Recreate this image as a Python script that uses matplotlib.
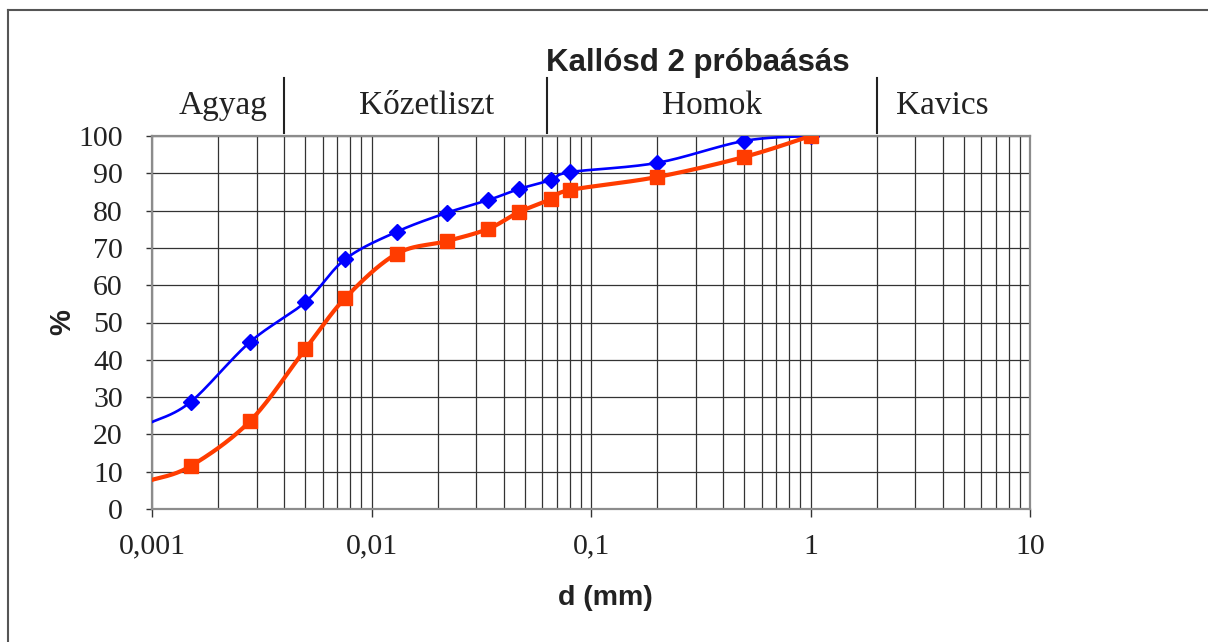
import numpy as np
import matplotlib.pyplot as plt
from matplotlib.lines import Line2D
import matplotlib.transforms as mtransforms

# grain size (mm) and passing (%)
d_mm = [0.0015, 0.0028, 0.005, 0.0076, 0.013, 0.022, 0.034, 0.047, 0.066, 0.08, 0.2, 0.5, 1.0]
minta_1 = [28.7, 44.8, 55.5, 67.0, 74.3, 79.4, 82.8, 85.8, 88.2, 90.3, 92.8, 98.7, 100.0]
minta_2 = [11.5, 23.6, 42.9, 56.6, 68.4, 71.8, 75.1, 79.6, 83.1, 85.5, 89.0, 94.4, 100.0]
# where the curves enter at the left edge (no marker there)
edge_d = 0.001
edge_1 = 23.3
edge_2 = 7.8

x_ticks = [0.001, 0.01, 0.1, 1, 10]
x_ticklabels = ["0,001", "0,01", "0,1", "1", "10"]
y_ticks = list(range(0, 101, 10))

bounds = [0.004, 0.063, 2.0]
classes = ["Agyag", "Kőzetliszt", "Homok", "Kavics"]
class_pos = [0.0021, 0.0178, 0.355, 4.0]


def smooth(xs, ys, n=40):
    # Catmull-Rom / Excel style smoothing in log-x space
    u = np.log10(np.asarray(xs, float))
    v = np.asarray(ys, float)
    P = np.column_stack([u, v])
    out = []
    for i in range(len(P) - 1):
        p0 = P[max(i - 1, 0)]
        p1 = P[i]
        p2 = P[i + 1]
        p3 = P[min(i + 2, len(P) - 1)]
        c1 = p1 + (p2 - p0) / 6
        c2 = p2 - (p3 - p1) / 6
        t = np.linspace(0, 1, n)[:, None]
        seg = (1 - t) ** 3 * p1 + 3 * (1 - t) ** 2 * t * c1 + 3 * (1 - t) * t ** 2 * c2 + t ** 3 * p2
        out.append(seg if i == 0 else seg[1:])
    out = np.vstack(out)
    return 10 ** out[:, 0], out[:, 1]


serif = "Liberation Serif"
sans = "Liberation Sans"

fig = plt.figure(figsize=(12.08, 6.42), dpi=100)
ax = fig.add_axes([152 / 1208, 1 - 509 / 642, (1030 - 152) / 1208, (509 - 136) / 642])

ax.set_xscale("log")
ax.set_xlim(0.001, 10)
ax.set_ylim(0, 100)

# grid
for dec in [0.001, 0.01, 0.1, 1]:
    for k in range(1, 10):
        ax.axvline(dec * k, color="#333333", lw=0.9, zorder=1)
for yv in y_ticks:
    ax.axhline(yv, color="#333333", lw=0.9, zorder=1)

bx, by = smooth([edge_d] + d_mm, [edge_1] + minta_1)
ax.plot(bx, by, color="#0000ff", lw=1.9, zorder=3)
ax.plot(d_mm, minta_1, ls="none", marker="D", ms=8.5, color="#0000ff", zorder=4)

rx, ry = smooth([edge_d] + d_mm, [edge_2] + minta_2)
ax.plot(rx, ry, color="#ff3c00", lw=3.0, zorder=5)
ax.plot(d_mm, minta_2, ls="none", marker="s", ms=10.5, color="#ff3c00", zorder=6)

for s in ax.spines.values():
    s.set_color("#8c8c8c")
    s.set_linewidth(1.6)

ax.set_xticks(x_ticks)
ax.set_xticklabels(x_ticklabels, fontfamily=serif, fontsize=21.5)
ax.xaxis.set_minor_locator(plt.NullLocator())
ax.set_yticks(y_ticks)
ax.set_yticklabels([str(v) for v in y_ticks], fontfamily=serif, fontsize=21.5)
ax.tick_params(axis="x", direction="out", length=5.8, width=1, color="#333333", pad=12)
ax.tick_params(axis="y", direction="out", length=4, width=1, color="#333333", pad=17)
for lab in ax.get_xticklabels() + ax.get_yticklabels():
    lab.set_color("#222222")

# soil class bands above the plot
trans = mtransforms.blended_transform_factory(ax.transData, ax.transAxes)
for b in bounds:
    ax.plot([b, b], [1.008, 1.155], color="#222222", lw=1.5, transform=trans, clip_on=False)
for name, xp in zip(classes, class_pos):
    ax.text(xp, 1.08, name, transform=trans, ha="center", va="center",
            fontfamily=serif, fontsize=24, color="#222222")

ax.text(0.306, 1.197, "Kallósd 2 próbaásás", transform=trans, ha="center", va="center",
        fontfamily=sans, fontweight="bold", fontsize=22.5, color="#222222")

fig.text(62 / 1208, 1 - 322 / 642, "%", rotation=90, ha="center", va="center",
         fontfamily=sans, fontweight="bold", fontsize=21, color="#222222")
fig.text(605 / 1208, 1 - 598 / 642, "d (mm)", ha="center", va="center",
         fontfamily=sans, fontweight="bold", fontsize=20.5, color="#222222")

# outer frame (top and left edges only visible)
fig.add_artist(Line2D([8 / 1208, 8 / 1208], [0, 1 - 10 / 642], color="#555555", lw=1.5))
fig.add_artist(Line2D([8 / 1208, 1], [1 - 10 / 642, 1 - 10 / 642], color="#555555", lw=1.5))

fig.savefig("out.png", dpi=100)
